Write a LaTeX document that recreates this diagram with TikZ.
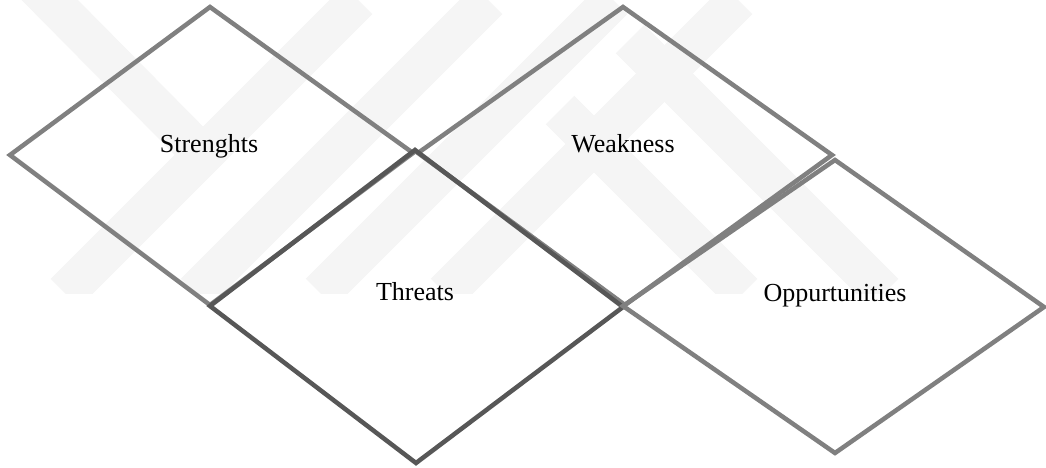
\documentclass[tikz,border=0pt]{standalone}
\usepackage{fontspec}
\setmainfont{Liberation Serif}
\begin{document}
\begin{tikzpicture}[x=1pt,y=-1pt,
  frame/.style={draw=black!50,line width=4.5pt,line join=miter},
  framedark/.style={draw=black!66,line width=4.5pt,line join=miter},
  label/.style={font=\fontsize{26}{30}\selectfont,anchor=base,inner sep=0pt},
  wm/.style={draw=black!4,line width=40pt}]
\useasboundingbox[fill=white] (0,0) rectangle (1046,468);
% faint watermark
\begin{scope}
\clip (0,0) rectangle (1000,293);
\draw[wm] (65,293) -- (358,0);
\draw[wm] (195,293) -- (488,0);
\draw[wm] (320,293) -- (613,0);
\draw[wm] (445,293) -- (738,0);
\draw[wm] (30,-20) -- (203,155);
\draw[wm] (560,110) -- (594,144) -- (743,293);
\draw[wm] (630,39) -- (665,74) -- (884,293);
\end{scope}
% vertices
\coordinate (sT) at (210,7);   \coordinate (sR) at (413,153);
\coordinate (sB) at (210,305); \coordinate (sL) at (10,155);
\coordinate (wT) at (623,7);   \coordinate (wR) at (832,155);
\coordinate (wB) at (625,305); \coordinate (wL) at (418,153);
\coordinate (tT) at (415,150); \coordinate (tR) at (623,307);
\coordinate (tB) at (416,463); \coordinate (tL) at (210,306);
\coordinate (oT) at (835,160); \coordinate (oR) at (1044,307);
\coordinate (oB) at (835,453); \coordinate (oL) at (623,306);
\draw[frame] (sT) -- (sR) -- (sB) -- (sL) -- cycle;
\draw[frame] (wT) -- (wR) -- (wB) -- (wL) -- cycle;
\draw[framedark] (tT) -- (tR) -- (tB) -- (tL) -- cycle;
\draw[frame] (oT) -- (oR) -- (oB) -- (oL) -- cycle;
\node[label] (strengths) at (209,152) {Strenghts};
\node[label] (weakness) at (623,152) {Weakness};
\node[label] (threats) at (415,300) {Threats};
\node[label] (opp) at (835,301) {Oppurtunities};
\end{tikzpicture}
\end{document}
